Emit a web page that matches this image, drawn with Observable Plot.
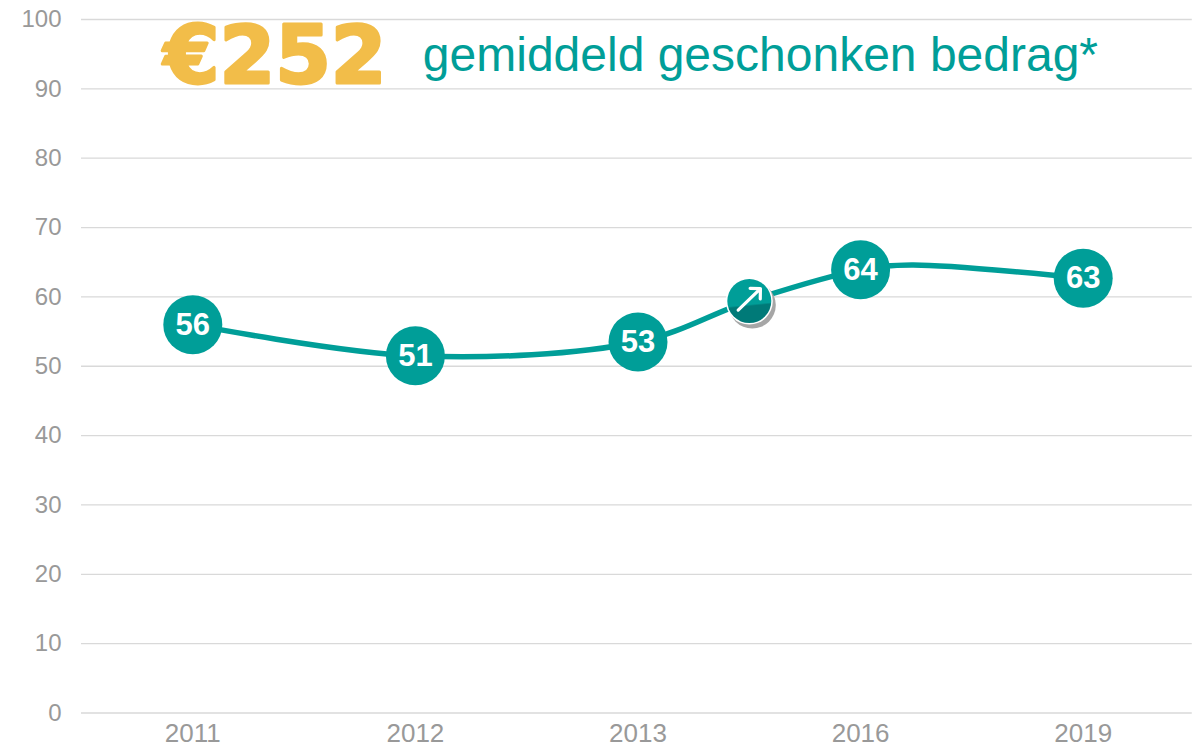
<!DOCTYPE html>
<html>
<head>
<meta charset="utf-8">
<script src="https://cdn.jsdelivr.net/npm/d3@7"></script>
<script src="https://cdn.jsdelivr.net/npm/@observablehq/plot@0.6"></script>
<style>
html,body{margin:0;padding:0;background:#fff}
svg{display:block}
</style>
</head>
<body>
<div id="chart"></div>
<script>
const years = ["2011", "2012", "2013", "2016", "2019"];
const positions = [0, 1, 2, 3, 4];
const values = [56.0, 51.5, 53.5, 63.9, 62.7];
const labels = ["56", "51", "53", "64", "63"];
const yTicks = [0, 10, 20, 30, 40, 50, 60, 70, 80, 90, 100];
const curvePositions = [0, 1, 2, 2.5, 3, 3.23, 4];
const curveValues = [56.0, 51.5, 53.5, 59.4, 63.9, 64.6, 62.7];
const arrowPoint = [{x: 2.5, y: 59.4}];
const arrowShaft = [{x1: 2.45, y1: 58.1, x2: 2.55, y2: 61.2}];
const big = "€252";
const caption = "gemiddeld geschonken bedrag*";

const rows = positions.map((p, i) => ({x: p, y: values[i], label: labels[i]}));
const curve = curvePositions.map((p, i) => ({x: p, y: curveValues[i]}));
const teal = "#009e98";
const fontFamily = "'Liberation Sans', Arial, sans-serif";

const defs = () => {
  const s = d3.create("svg:defs");
  const g = s.append("linearGradient").attr("id", "arrowFill").attr("x1", 0).attr("x2", 0.1).attr("y1", 0).attr("y2", 1);
  g.append("stop").attr("offset", "62%").attr("stop-color", teal);
  g.append("stop").attr("offset", "66%").attr("stop-color", "#007a78");
  return s.node();
};

const chart = Plot.plot({
  width: 1203,
  height: 749,
  marginTop: 19,
  marginBottom: 36.5,
  marginLeft: 81,
  marginRight: 9,
  style: {fontFamily, background: "#fff"},
  x: {domain: [-0.5, 4.5], label: null},
  y: {domain: [0, 100], label: null},
  marks: [
    defs,
    Plot.ruleY(yTicks, {x1: -0.5, x2: 4.49, stroke: "#d9d9d9", strokeWidth: 1.3}),
    Plot.axisY({ticks: yTicks, tickSize: 0, tickPadding: 20, fontSize: 24, color: "#999", label: null, tickFormat: d => d}),
    Plot.axisX({ticks: positions, tickSize: 0, tickPadding: 11, fontSize: 26, color: "#999", label: null, tickFormat: d => years[d]}),
    Plot.line(curve, {x: "x", y: "y", stroke: teal, strokeWidth: 5.5, curve: "catmull-rom"}),
    Plot.dot(rows, {x: "x", y: "y", r: 29.5, fill: teal}),
    Plot.text(rows, {x: "x", y: "y", text: "label", fill: "#fff", fontWeight: "bold", fontSize: 31}),
    Plot.dot(arrowPoint, {x: "x", y: "y", r: 23.5, fill: "#a6a6a6", dx: 3, dy: 4}),
    Plot.dot(arrowPoint, {x: "x", y: "y", r: 23.5, fill: "#fff"}),
    Plot.dot(arrowPoint, {x: "x", y: "y", r: 22, fill: "url(#arrowFill)"}),
    Plot.arrow(arrowShaft, {x1: "x1", y1: "y1", x2: "x2", y2: "y2", bend: 0, stroke: "#fff", strokeWidth: 3.2, headLength: 14, headAngle: 90}),
    Plot.text([big], {x: [0.37], y: [94.6], text: d => d, fill: "#f2bd49", stroke: "#f2bd49", strokeWidth: 3, fontWeight: "bold", fontFamily: "'DejaVu Sans'", fontSize: 80}),
    Plot.text([caption], {x: [2.55], y: [94.75], text: d => d, fill: teal, fontSize: 48})
  ]
});
document.getElementById("chart").append(chart);
</script>
</body>
</html>
